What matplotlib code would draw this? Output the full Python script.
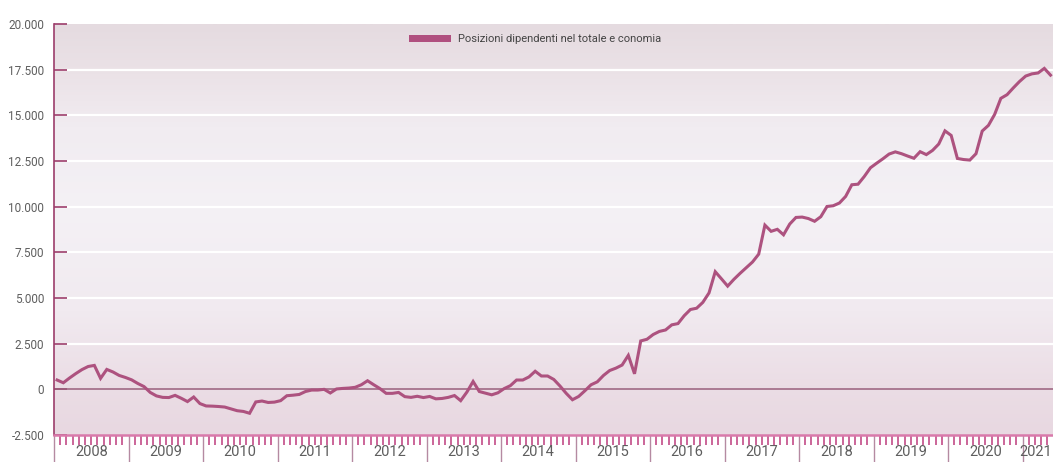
import numpy as np
import matplotlib
matplotlib.use("Agg")
import matplotlib.pyplot as plt
from matplotlib.colors import LinearSegmentedColormap
from matplotlib.patches import Patch

# [START data]
years = list(range(2008, 2022))
series_label = "Posizioni dipendenti nel totale e conomia"

# monthly values, Jan 2008 .. May 2021
positions = [
    510, 360, 620, 860, 1080, 1250, 1310, 600, 1090, 950, 760, 650,          # 2008
    520, 320, 150, -170, -360, -440, -450, -330, -490, -670, -420, -780,    # 2009
    -910, -920, -940, -970, -1070, -1170, -1210, -1310, -690, -640, -720, -700,  # 2010
    -620, -350, -320, -280, -120, -40, -40, 0, -200, 20, 50, 70,            # 2011
    110, 250, 470, 250, 40, -220, -220, -170, -400, -440, -380, -450,       # 2012
    -390, -520, -500, -440, -340, -620, -150, 430, -120, -210, -300, -190,  # 2013
    40, 200, 510, 510, 680, 990, 730, 730, 540, 180, -220, -570,            # 2014
    -390, -80, 250, 410, 760, 1030, 1160, 1330, 1860, 850, 2650, 2740,      # 2015
    3000, 3170, 3250, 3530, 3600, 4030, 4370, 4440, 4760, 5280, 6440, 6050,  # 2016
    5650, 6020, 6350, 6660, 6970, 7400, 8990, 8650, 8760, 8460, 9050, 9410,  # 2017
    9430, 9350, 9200, 9450, 10010, 10050, 10200, 10560, 11200, 11230, 11650, 12130,  # 2018
    12380, 12620, 12880, 13000, 12900, 12770, 12650, 13010, 12850, 13080, 13430, 14150,  # 2019
    13900, 12640, 12580, 12550, 12900, 14140, 14450, 15050, 15930, 16130, 16500, 16850,  # 2020
    17150, 17270, 17320, 17570, 17200,                                       # 2021
]
y_ticks = [-2500, 0, 2500, 5000, 7500, 10000, 12500, 15000, 17500, 20000]
# [END data]

plt.rcParams["font.family"] = ["Roboto", "DejaVu Sans"]

LINE_COLOR = "#ad527f"
TEXT_COLOR = "#5e5e5e"

fig = plt.figure(figsize=(10.53, 4.62), dpi=100)
fig.patch.set_facecolor("white")
ax = fig.add_axes([54 / 1053, 27 / 462, 999 / 1053, 411 / 462])

x_max = 160.9
ax.set_xlim(0, x_max)
ax.set_ylim(-2500, 20000)

# soft vertical gradient behind the plot
bg = LinearSegmentedColormap.from_list("bg", [
    (0.00, "#e8d8e1"),
    (0.12, "#ebdde5"),
    (0.30, "#f1eaf0"),
    (0.55, "#f4f1f5"),
    (0.75, "#f1ecf1"),
    (0.88, "#ebe2e7"),
    (1.00, "#e5dbe0"),
])
grad = np.linspace(0, 1, 256).reshape(-1, 1)
ax.imshow(grad, cmap=bg, origin="lower", aspect="auto",
          extent=(0, x_max, -2500, 20000), zorder=0)

# white grid, dark zero line
for v in y_ticks[2:-1]:
    ax.axhline(v, color="white", lw=1.6, zorder=1)
ax.axhline(0, color="#9a5f7c", lw=1.1, zorder=2)

months = np.arange(len(positions)) + 0.5
ax.plot(months, positions, color=LINE_COLOR, lw=2.2, solid_joinstyle="miter", zorder=3)

# axes styling
for side in ("top", "right"):
    ax.spines[side].set_visible(False)
ax.spines["left"].set_color("#9c3d6b")
ax.spines["left"].set_linewidth(1.2)
ax.spines["bottom"].set_color("#d97aab")
ax.spines["bottom"].set_linewidth(1.8)

ax.set_yticks(y_ticks)
ax.set_yticklabels([f"{v:,}".replace(",", ".") for v in y_ticks])
ax.tick_params(axis="y", direction="in", length=9, width=1.2, color="#9c3d6b",
               labelsize=8.5, labelcolor=TEXT_COLOR, pad=7)

ax.set_xticks(np.arange(0, x_max, 12))
ax.set_xticklabels([])
ax.set_xticks(np.arange(0, x_max, 1), minor=True)
ax.tick_params(axis="x", which="major", direction="out", length=20, width=1.0,
               color="#b58aa2")
ax.tick_params(axis="x", which="minor", direction="out", length=7, width=1.2,
               color="#c24c88")

for i, yr in enumerate(years):
    left = 12 * i
    right = min(12 * (i + 1), x_max - 0.6)
    ax.text((left + right) / 2, -0.042, str(yr), transform=ax.get_xaxis_transform(),
            ha="center", va="center", fontsize=10.5, color=TEXT_COLOR)

# legend
handle = Patch(facecolor="#b0507f", edgecolor="none")
ax.legend([handle], [series_label], loc="center left",
          bbox_to_anchor=((409 - 54) / 999, (435 - 39.5) / 411),
          frameon=False, fontsize=8, handlelength=3.8, handleheight=0.62,
          handletextpad=0.65, borderpad=0, borderaxespad=0, labelcolor="#444444")

fig.savefig("out.png", dpi=100, facecolor="white")
